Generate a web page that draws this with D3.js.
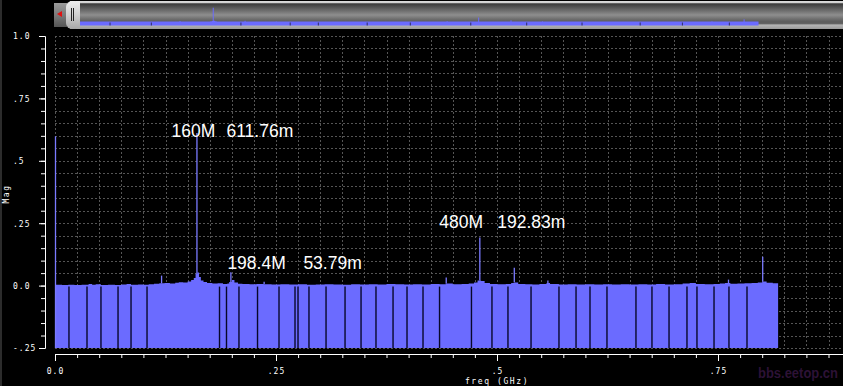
<!DOCTYPE html>
<html><head><meta charset="utf-8">
<script src="https://cdn.jsdelivr.net/npm/d3@7"></script>
<style>html,body{margin:0;padding:0;background:#000;overflow:hidden}</style>
</head><body><svg id="c" width="843" height="386"></svg>
<script>
// ---------- data ----------
const floorFreq = [0.000,0.008,0.015,0.022,0.030,0.038,0.042,0.046,0.052,0.060,0.068,0.075,0.081,0.086,0.094,0.100,0.106,0.112,0.118,0.124,0.130,0.136,0.140,0.145,0.150,0.154,0.157,0.159,0.161,0.163,0.165,0.168,0.172,0.178,0.184,0.190,0.195,0.197,0.200,0.203,0.207,0.212,0.220,0.228,0.236,0.245,0.255,0.265,0.275,0.285,0.295,0.305,0.315,0.325,0.335,0.345,0.355,0.365,0.375,0.385,0.395,0.405,0.415,0.425,0.435,0.442,0.450,0.460,0.468,0.474,0.478,0.482,0.486,0.492,0.500,0.510,0.516,0.520,0.524,0.532,0.540,0.548,0.556,0.560,0.570,0.580,0.590,0.600,0.610,0.620,0.630,0.640,0.650,0.660,0.670,0.680,0.690,0.700,0.710,0.718,0.725,0.735,0.745,0.752,0.758,0.764,0.772,0.780,0.788,0.795,0.800,0.805,0.812,0.818];
const floorMag = [0.003,0.002,0.003,0.002,0.003,0.006,0.003,0.005,0.002,0.003,0.002,0.004,0.006,0.003,0.004,0.003,0.005,0.007,0.009,0.010,0.008,0.011,0.013,0.012,0.016,0.022,0.030,0.048,0.052,0.034,0.020,0.014,0.010,0.008,0.009,0.006,0.008,0.014,0.022,0.012,0.007,0.006,0.005,0.006,0.005,0.004,0.005,0.004,0.005,0.003,0.004,0.005,0.004,0.003,0.005,0.004,0.005,0.004,0.006,0.005,0.004,0.005,0.004,0.006,0.005,0.008,0.005,0.006,0.008,0.012,0.020,0.018,0.010,0.006,0.005,0.006,0.010,0.012,0.006,0.005,0.004,0.006,0.010,0.006,0.004,0.005,0.004,0.005,0.004,0.005,0.004,0.005,0.004,0.005,0.004,0.006,0.004,0.005,0.008,0.010,0.006,0.005,0.006,0.008,0.010,0.007,0.008,0.009,0.010,0.012,0.016,0.011,0.009,0.008];
const spikeFreq = [0.000,0.120,0.160,0.1984,0.236,0.442,0.480,0.519,0.557,0.7613,0.800];
const spikeMag  = [0.598,0.040,0.6118,0.0538,0.015,0.032,0.1928,0.072,0.020,0.024,0.116];
const gapFreq = [0.0158,0.0362,0.0520,0.0713,0.0860,0.1041,0.1861,0.1940,0.2081,0.2291,0.2534,0.2715,0.2749,0.2873,0.3066,0.3281,0.3462,0.3631,0.3824,0.3982,0.4163,0.4350,0.4711,0.4943,0.5124,0.5385,0.5701,0.5894,0.6052,0.6244,0.6572,0.6753,0.6946,0.7149,0.7262,0.7455,0.7624,0.7828];
const markerFreq = [0.16,0.1984,0.48];
const markerMag = [0.61176,0.05379,0.19283];
const markerFreqText = ["160M","198.4M","480M"];
const markerMagText = ["611.76m","53.79m","192.83m"];
const yTickVals = [-0.25,0,0.25,0.5,0.75,1.0];
const yTickLabels = ["-.25","0.0",".25",".5",".75","1.0"];
const xTickVals = [0,0.25,0.5,0.75];
const xTickLabels = ["0.0",".25",".5",".75"];
const xTitle = "freq (GHz)";
const yTitle = "Mag";
const watermark = "bbs.eetop.cn";

// ---------- layout ----------
const svg = d3.select("#c");
const W = 843, H = 386;
const L = 55, R = 843, T = 36, B = 348;
const x = d3.scaleLinear().domain([0, 0.8914]).range([L, R]);
const y = d3.scaleLinear().domain([-0.25, 1.0]).range([B, T]);
const BLUE = "#6b6bff";
const floorPts = floorFreq.map((f,i)=>({f, m: floorMag[i]}));
const floorAt = f => {
  let best = floorPts[0];
  floorPts.forEach(p => { if (Math.abs(p.f - f) < Math.abs(best.f - f)) best = p; });
  return best.m;
};

svg.append("rect").attr("width",W).attr("height",H).attr("fill","#000");
svg.append("rect").attr("x",0).attr("y",0).attr("width",2).attr("height",H).attr("fill","#2c2c2c");

// grid
const grid = svg.append("g").attr("stroke","#555").attr("stroke-width",1).attr("stroke-dasharray","2,2");
d3.range(0, 0.8914, 0.025).forEach(v => {
  grid.append("line").attr("x1",Math.round(x(v))+0.5).attr("x2",Math.round(x(v))+0.5).attr("y1",T).attr("y2",B);
});
d3.range(-0.25, 1.0001, 0.05).forEach(v => {
  grid.append("line").attr("x1",L).attr("x2",R).attr("y1",Math.round(y(v))+0.5).attr("y2",Math.round(y(v))+0.5);
});

// spectrum area
const area = d3.area().x(d=>x(d.f)).y0(B).y1(d=>y(d.m)).curve(d3.curveStepAfter);
svg.append("path").datum(floorPts).attr("d",area).attr("fill",BLUE);
// gaps
svg.append("g").selectAll("line").data(gapFreq).join("line")
  .attr("x1",d=>x(d)).attr("x2",d=>x(d)).attr("y1",y(0)+1).attr("y2",B)
  .attr("stroke","#08082a").attr("stroke-width",1.4);
// spikes
svg.append("g").selectAll("line").data(spikeFreq.map((f,i)=>({f,m:spikeMag[i]}))).join("line")
  .attr("x1",d=>x(d.f)+0.5).attr("x2",d=>x(d.f)+0.5)
  .attr("y1",d=>d.f===0?B:y(floorAt(d.f))).attr("y2",d=>y(d.m))
  .attr("stroke","#7a7aff").attr("stroke-width",1.3);

// y axis
const yAxisG = svg.append("g").attr("transform","translate(45,0)");
yAxisG.call(d3.axisLeft(y).tickValues(d3.range(-0.25,1.0001,0.05)).tickSize(4).tickSizeOuter(0).tickFormat(""));
const yMaj = svg.append("g").attr("transform","translate(45,0)");
yMaj.call(d3.axisLeft(y).tickValues(yTickVals).tickSize(6).tickSizeOuter(0).tickFormat((d,i)=>yTickLabels[i]));
[yAxisG,yMaj].forEach(g=>{g.selectAll("path,line").attr("stroke","#fff").attr("stroke-width",1);});
yMaj.selectAll("text").attr("text-anchor","start").attr("x",-32).attr("dy","0.35em")
  .attr("fill","#fff").style("font-family","DejaVu Sans Mono").style("font-size","8px").style("letter-spacing","1px");

// x axis
const xAxisG = svg.append("g").attr("transform","translate(0,354)");
xAxisG.call(d3.axisBottom(x).tickValues(d3.range(0,0.8914,0.025)).tickSize(4).tickSizeOuter(0).tickFormat(""));
const xMaj = svg.append("g").attr("transform","translate(0,354)");
xMaj.call(d3.axisBottom(x).tickValues(xTickVals).tickSize(7).tickSizeOuter(0).tickFormat((d,i)=>xTickLabels[i]));
[xAxisG,xMaj].forEach(g=>{g.selectAll("path,line").attr("stroke","#fff").attr("stroke-width",1);});
xMaj.selectAll("text").attr("y",17).attr("dy","0.35em")
  .attr("fill","#fff").style("font-family","DejaVu Sans Mono").style("font-size","8px").style("letter-spacing","1px");

svg.append("text").attr("x",497).attr("y",381).attr("dy","0.35em").attr("text-anchor","middle")
  .attr("fill","#fff").style("font-family","DejaVu Sans Mono").style("font-size","8px").style("letter-spacing","1.6px")
  .text(xTitle);
svg.append("text").attr("transform","translate(9,194) rotate(-90)").attr("text-anchor","middle")
  .attr("fill","#fff").style("font-family","DejaVu Sans Mono").style("font-size","8px").style("letter-spacing","1.5px")
  .text(yTitle);

// markers
const mDx = [-25,-3,-40], mVx = [30,73,18], mDy = [4,-3,-9];
markerFreq.forEach((f,i)=>{
  const g = svg.append("g").attr("fill","#fff").style("font-family","'Liberation Sans', Arial, sans-serif").style("font-size","17.5px");
  g.append("text").attr("x",x(f)+mDx[i]).attr("y",y(markerMag[i])+mDy[i]).text(markerFreqText[i]);
  g.append("text").attr("x",x(f)+mVx[i]).attr("y",y(markerMag[i])+mDy[i]).text(markerMagText[i]);
});

// watermark (faint)
svg.append("text").attr("x",758).attr("y",378).attr("textLength",80).attr("lengthAdjust","spacingAndGlyphs")
  .attr("fill","#7a3090").attr("fill-opacity",0.38)
  .style("font-family","'Liberation Sans', Arial").style("font-weight","bold").style("font-size","14px")
  .text(watermark);

// ---------- top scrollbar ----------
const defs = svg.append("defs");
const g1 = defs.append("linearGradient").attr("id","trk").attr("x1",0).attr("x2",0).attr("y1",0).attr("y2",1);
[[0,"#dcdcdc"],[0.06,"#d0d0d0"],[0.1,"#3a3a3a"],[0.5,"#8e8e8e"],[0.72,"#5e5e5e"],[0.8,"#5e5e5e"],[0.86,"#b4b4b4"],[1,"#9a9a9a"]]
  .forEach(s=>g1.append("stop").attr("offset",s[0]).attr("stop-color",s[1]));
const g2 = defs.append("linearGradient").attr("id","btn").attr("x1",0).attr("x2",0).attr("y1",0).attr("y2",1);
[[0,"#9a9a9a"],[0.5,"#7a7a7a"],[1,"#555"]].forEach(s=>g2.append("stop").attr("offset",s[0]).attr("stop-color",s[1]));
const g3 = defs.append("linearGradient").attr("id","cap").attr("x1",0).attr("x2",0).attr("y1",0).attr("y2",1);
[[0,"#eeeeee"],[0.5,"#cfcfcf"],[1,"#a8a8a8"]].forEach(s=>g3.append("stop").attr("offset",s[0]).attr("stop-color",s[1]));

svg.append("rect").attr("x",54).attr("y",3).attr("width",13).attr("height",24).attr("fill","url(#btn)");
svg.append("path").attr("d","M57,14L62,11L62,17Z").attr("fill","#e01010");
svg.append("rect").attr("x",70).attr("y",1).attr("width",R-70).attr("height",28).attr("fill","url(#trk)");
svg.append("rect").attr("x",66).attr("y",1).attr("width",14).attr("height",28).attr("rx",6).attr("fill","url(#cap)");
svg.append("rect").attr("x",76).attr("y",1).attr("width",4).attr("height",28).attr("fill","url(#cap)");
svg.append("line").attr("x1",71.5).attr("x2",71.5).attr("y1",8).attr("y2",21).attr("stroke","#222");
svg.append("line").attr("x1",73.5).attr("x2",73.5).attr("y1",8).attr("y2",21).attr("stroke","#222");

const xm = d3.scaleLinear().domain([0,0.827]).range([80,766]);
const ym = d3.scaleLinear().domain([0,0.6]).range([22,8]);
svg.append("path").datum(floorPts).attr("fill",BLUE)
  .attr("d",d3.area().x(d=>xm(d.f)).y0(25.5).y1(d=>Math.min(21.5,ym(d.m))).curve(d3.curveStepAfter));
svg.append("g").selectAll("line").data(spikeFreq.slice(1).map((f,i)=>({f,m:spikeMag[i+1]}))).join("line")
  .attr("x1",d=>xm(d.f)+0.5).attr("x2",d=>xm(d.f)+0.5).attr("y1",22).attr("y2",d=>ym(d.m))
  .attr("stroke",BLUE).attr("stroke-width",1);
svg.append("g").selectAll("line").data(gapFreq.filter((d,i)=>i%3===1)).join("line")
  .attr("x1",d=>xm(d)).attr("x2",d=>xm(d)).attr("y1",22.5).attr("y2",25.5)
  .attr("stroke","#303060").attr("stroke-width",1);
</script></body></html>
